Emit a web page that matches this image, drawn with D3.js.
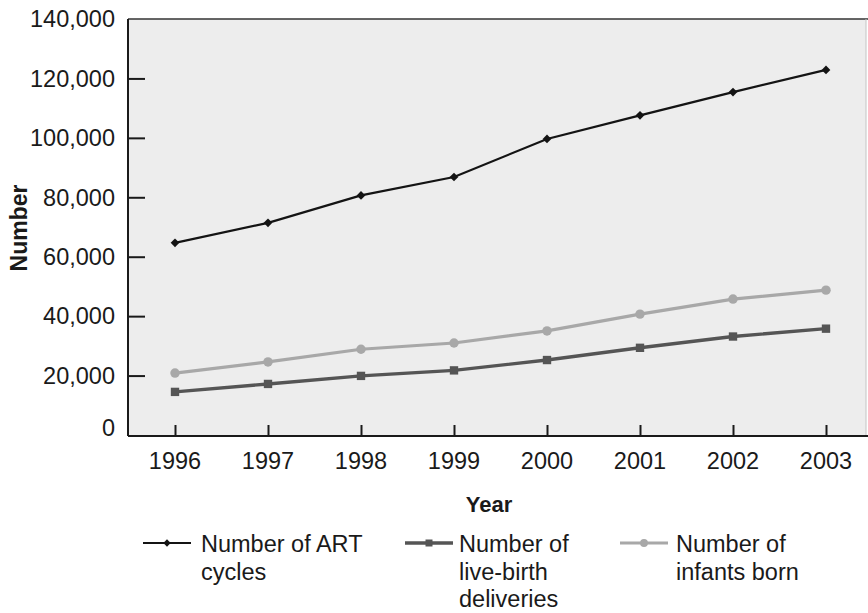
<!DOCTYPE html>
<html><head><meta charset="utf-8">
<script src="https://cdn.jsdelivr.net/npm/d3@7"></script>
<style>body{margin:0;background:#fff}svg{display:block}text{font-family:"Liberation Sans",Arial,sans-serif;fill:#1a1a1a}</style>
</head><body>
<svg id="c" width="868" height="613"></svg>
<script>
const years = [1996, 1997, 1998, 1999, 2000, 2001, 2002, 2003];
const artCycles = [64681, 71406, 80634, 86822, 99629, 107587, 115392, 122872];
const liveBirths = [14507, 17186, 19891, 21746, 25228, 29344, 33141, 35785];
const infantsBorn = [20840, 24582, 28851, 30967, 35025, 40687, 45751, 48756];
const yTicks = [0, 20000, 40000, 60000, 80000, 100000, 120000, 140000];
const seriesNames = [["Number of ART", "cycles"], ["Number of", "live-birth", "deliveries"], ["Number of", "infants born"]];

const svg = d3.select("#c");
const L = 128, R = 866, T = 19, B = 436;
const x = d3.scalePoint().domain(years).range([175, 826]);
const y = d3.scaleLinear().domain([0, 140000]).range([435, 19]);

svg.append("rect").attr("x", L).attr("y", T).attr("width", R - L).attr("height", B - T).attr("fill", "#ededed");
svg.append("line").attr("x1", L).attr("x2", 868).attr("y1", T).attr("y2", T).attr("stroke", "#333").attr("stroke-width", 1.5);
svg.append("line").attr("x1", R).attr("x2", R).attr("y1", T).attr("y2", B).attr("stroke", "#c4c4c4").attr("stroke-width", 1);

// y axis
const yAxis = svg.append("g").attr("transform", `translate(${L},0)`)
  .call(d3.axisRight(y).tickValues(yTicks.filter(d => d > 0 && d < 140000)).tickSize(17).tickFormat(""));
yAxis.select(".domain").remove();
yAxis.selectAll("line").attr("stroke", "#1a1a1a").attr("stroke-width", 2);
svg.append("line").attr("x1", L).attr("x2", L).attr("y1", T).attr("y2", B).attr("stroke", "#1a1a1a").attr("stroke-width", 2);
svg.append("g").selectAll("text").data(yTicks).join("text")
  .attr("x", 115).attr("y", d => y(d) + (d === 0 ? -7 : 0)).attr("dy", "0.35em")
  .attr("text-anchor", "end").attr("font-size", 23.5).text(d => d3.format(",")(d));

// x axis
const xAxis = svg.append("g").attr("transform", `translate(0,${B})`)
  .call(d3.axisTop(x).tickSize(11).tickFormat(""));
xAxis.select(".domain").remove();
xAxis.selectAll("line").attr("stroke", "#1a1a1a").attr("stroke-width", 2);
svg.append("line").attr("x1", L).attr("x2", 868).attr("y1", B).attr("y2", B).attr("stroke", "#1a1a1a").attr("stroke-width", 2);
svg.append("g").selectAll("text").data(years).join("text")
  .attr("x", d => x(d)).attr("y", 469).attr("text-anchor", "middle").attr("font-size", 23.5).text(d => d);

// titles
svg.append("text").attr("x", 489).attr("y", 512).attr("text-anchor", "middle")
  .attr("font-size", 22).attr("font-weight", "bold").text("Year");
svg.append("text").attr("transform", "translate(27,228) rotate(-90)").attr("text-anchor", "middle")
  .attr("font-size", 23).attr("font-weight", "bold").text("Number");

const diamond = {draw(ctx, size) { const r = Math.sqrt(size) / 2 * Math.SQRT2; ctx.moveTo(0, -r); ctx.lineTo(r, 0); ctx.lineTo(0, r); ctx.lineTo(-r, 0); ctx.closePath(); }};
const series = [
  {vals: artCycles, color: "#141414", w: 2.2, shape: diamond, size: 38},
  {vals: liveBirths, color: "#555", w: 3.4, shape: d3.symbolSquare, size: 70},
  {vals: infantsBorn, color: "#a8a8a8", w: 3.2, shape: d3.symbolCircle, size: 70}
];
const line = d3.line().x((d, i) => x(years[i])).y(d => y(d));
series.slice().reverse().forEach(s => {
  svg.append("path").datum(s.vals).attr("d", line).attr("fill", "none")
    .attr("stroke", s.color).attr("stroke-width", s.w);
  svg.append("g").selectAll("path").data(s.vals).join("path")
    .attr("transform", (d, i) => `translate(${x(years[i])},${y(d)})`)
    .attr("d", d3.symbol().type(s.shape).size(s.size)).attr("fill", s.color);
});

// legend
const legX = [143, 405, 620];
const textX = [201, 459, 676];
series.forEach((s, k) => {
  const g = svg.append("g").attr("transform", `translate(${legX[k]},543)`);
  g.append("line").attr("x1", 0).attr("x2", 48).attr("stroke", s.color).attr("stroke-width", s.w);
  g.append("path").attr("transform", "translate(24,0)").attr("d", d3.symbol().type(s.shape).size(s.size * 0.7)).attr("fill", s.color);
  seriesNames[k].forEach((t, j) => {
    svg.append("text").attr("x", textX[k]).attr("y", 552 + j * 27.5).attr("font-size", 23.5).text(t);
  });
});
</script>
</body></html>
